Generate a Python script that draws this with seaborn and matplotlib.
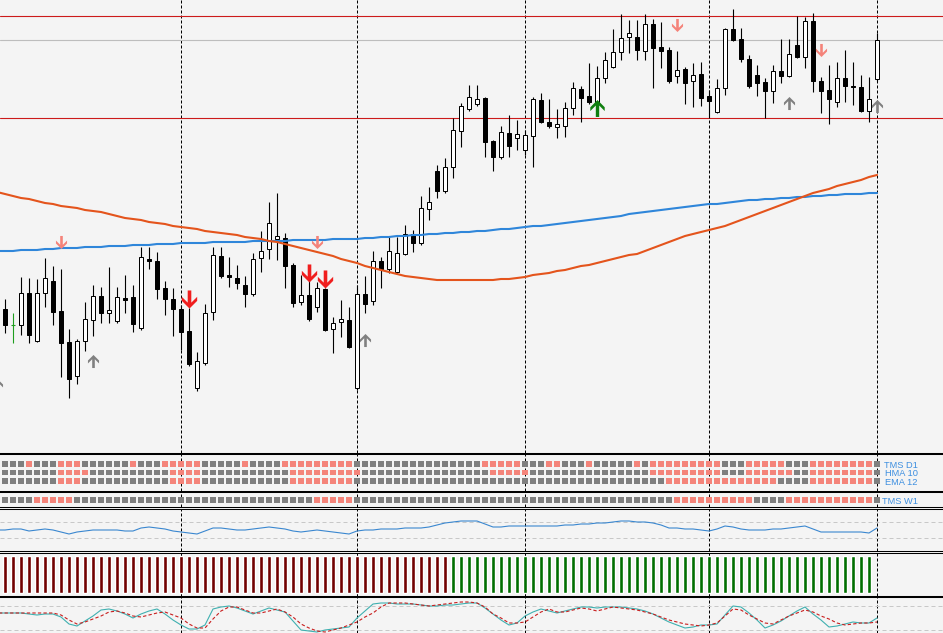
import numpy as np
import matplotlib
matplotlib.use("Agg")
import matplotlib.pyplot as plt
from matplotlib.path import Path
import seaborn as sns

# ---------------- data ----------------
# daily candles, price in points above the bottom of the main window
opens = [143, 127, 127, 159, 111, 159, 171, 141, 110, 76,
         111, 132, 156, 139, 131, 154, 155, 124, 193, 191,
         164, 153, 143, 121, 64, 89, 140, 196, 177, 174,
         167, 158, 194, 203, 213, 214, 187, 150, 157, 145,
         163, 123, 130, 132, 64, 158, 151, 191, 183, 180,
         198, 218, 209, 243, 281, 261, 285, 321, 343, 348,
         354, 311, 295, 319, 314, 302, 316, 352, 330, 325,
         326, 344, 363, 356, 349, 374, 385, 400, 415, 415,
         401, 428, 405, 402, 376, 383, 371, 378, 356, 340,
         364, 423, 413, 393, 377, 370, 361, 381, 376, 407,
         395, 431, 371, 362, 350, 374, 366, 365, 341, 373]
highs = [153, 139, 175, 174, 173, 194, 186, 183, 123, 113,
         150, 167, 165, 185, 165, 177, 167, 205, 205, 200,
         171, 164, 147, 144, 100, 148, 205, 205, 195, 187,
         176, 199, 221, 250, 259, 219, 189, 177, 182, 170,
         164, 135, 152, 145, 167, 176, 201, 195, 216, 215,
         227, 222, 256, 265, 287, 294, 334, 349, 367, 367,
         355, 312, 326, 337, 332, 322, 355, 359, 353, 343,
         350, 370, 366, 389, 386, 400, 423, 438, 432, 432,
         438, 433, 430, 405, 401, 385, 389, 390, 362, 373,
         424, 443, 424, 397, 387, 374, 387, 413, 413, 436,
         435, 439, 375, 387, 390, 402, 390, 377, 375, 419]
lows = [119, 109, 117, 109, 110, 145, 127, 75, 54, 68,
        101, 116, 129, 129, 129, 139, 120, 122, 183, 153,
        137, 116, 102, 86, 61, 87, 132, 174, 165, 163,
        145, 156, 180, 193, 192, 164, 145, 147, 131, 140,
        121, 99, 115, 104, 62, 139, 147, 164, 179, 178,
        197, 200, 207, 232, 254, 259, 274, 305, 341, 346,
        295, 281, 293, 295, 302, 297, 285, 329, 324, 314,
        315, 337, 330, 348, 347, 369, 384, 392, 399, 392,
        392, 364, 384, 369, 369, 348, 345, 346, 334, 339,
        357, 411, 390, 364, 356, 334, 349, 369, 375, 394,
        384, 360, 339, 328, 345, 350, 347, 340, 330, 371]
closes = [127, 127, 159, 117, 159, 174, 140, 109, 73, 111,
          133, 156, 139, 142, 155, 152, 128, 195, 191, 163,
          153, 143, 120, 88, 91, 139, 197, 176, 175, 169,
          158, 193, 201, 229, 216, 186, 149, 157, 133, 164,
          122, 129, 133, 105, 158, 148, 191, 183, 201, 199,
          218, 209, 244, 250, 261, 285, 322, 346, 355, 353,
          310, 295, 320, 306, 318, 317, 353, 330, 326, 328,
          344, 364, 354, 350, 374, 392, 400, 414, 419, 402,
          428, 404, 401, 371, 382, 369, 377, 354, 351, 364,
          423, 412, 393, 366, 369, 361, 381, 376, 398, 395,
          431, 371, 361, 353, 374, 366, 365, 341, 353, 412]

# indicator lines start one bar before the first visible candle (bar -1)
ma_fast = [260,
           258, 256, 254, 253, 251, 249, 248, 246, 245, 244,
           242, 241, 240, 238, 236, 234, 233, 232, 230, 229,
           228, 226, 225, 224, 223, 221, 220, 219, 218, 217,
           215, 214, 213, 211, 210, 208, 206, 204, 202, 200,
           198, 196, 193, 191, 189, 186, 184, 182, 180, 178,
           176, 175, 174, 173, 172, 172, 172, 172, 172, 172,
           172, 172, 173, 173, 174, 175, 177, 178, 179, 181,
           182, 184, 186, 187, 189, 191, 193, 195, 197, 198,
           201, 204, 207, 210, 213, 216, 218, 220, 222, 224,
           226, 229, 232, 235, 238, 241, 244, 247, 250, 253,
           256, 259, 261, 263, 266, 268, 270, 272, 275, 277]
ma_slow = [201,
           201, 201, 202, 202, 202, 203, 203, 204, 204, 204,
           205, 205, 205, 206, 206, 206, 207, 207, 207, 208,
           208, 208, 209, 209, 209, 209, 210, 210, 210, 210,
           210, 211, 211, 211, 211, 211, 212, 212, 212, 212,
           212, 213, 213, 213, 213, 214, 214, 215, 215, 216,
           216, 217, 217, 218, 218, 219, 219, 220, 220, 221,
           221, 222, 223, 223, 224, 225, 226, 226, 227, 228,
           229, 230, 231, 232, 233, 234, 235, 236, 238, 239,
           240, 241, 242, 243, 244, 245, 246, 247, 248, 248,
           249, 250, 251, 252, 252, 253, 253, 254, 254, 255,
           255, 256, 256, 257, 257, 258, 258, 258, 259, 259]

resistance = 436
support = 334
mid_level = 412
month_starts = [22, 44, 65, 88, 109]

# signal arrows: bar index and price
sell_weak_bars = [7, 39, 84, 102]
sell_weak_vals = [210, 210, 427, 402]
sell_strong_bars = [23, 38, 40]
sell_strong_vals = [153, 179, 173]
buy_weak_bars = [-1, 11, 45, 98, 109]
buy_weak_vals = [67, 91, 112, 349, 346]
buy_strong_bars = [74]
buy_strong_vals = [344]

# trend matrix, 1 = pink cell, 0 = grey cell
tms_d1 = ("0001000111" "0000001000" "1111100000" "1000011111"
          "1111000000" "0000000000" "1111100011" "0001000001"
          "0111111111" "0001111100" "0111111110")
hma_10 = ("0000000111" "1000000000" "0111100000" "0000001111"
          "1111100000" "0000000000" "0111110000" "0000000000"
          "0111111111" "0001111110" "0111111110")
ema_12 = ("0000000111" "0000000000" "0111100000" "0000001111"
          "1111000000" "0000000000" "0000000000" "0000000000"
          "0001111111" "1111111000" "0111111110")
tms_w1 = ("0000111110" "0000000000" "0000000000" "0000000001"
          "1111000000" "0000000000" "0000000000" "0000000000"
          "0000111111" "1111000011" "1111111110")

osc_line = [21,
            21, 22, 22, 20, 21, 22, 21, 19, 17, 19,
            20, 21, 21, 21, 21, 20, 20, 23, 24, 23,
            22, 20, 19, 18, 17, 20, 23, 23, 22, 21,
            21, 22, 23, 24, 23, 22, 20, 19, 20, 21,
            20, 19, 18, 17, 20, 21, 21, 22, 22, 22,
            23, 23, 23, 24, 26, 28, 29, 30, 30, 30,
            27, 24, 24, 25, 25, 25, 25, 25, 25, 25,
            26, 26, 27, 27, 28, 28, 29, 30, 30, 29,
            29, 28, 26, 23, 23, 22, 22, 21, 20, 22,
            25, 24, 22, 21, 21, 21, 22, 22, 23, 24,
            25, 22, 19, 19, 19, 19, 19, 19, 18, 23]
osc_levels = [29, 13]

trend_dir = [-1] * 56 + [1] * 53

stoch_main = [20,
              20, 20, 20, 19, 18, 19, 19, 16, 9, 7,
              12, 17, 23, 24, 22, 19, 15, 19, 22, 24,
              19, 13, 8, 4, 4, 8, 24, 26, 27, 25,
              22, 19, 22, 25, 23, 21, 12, 3, 2, 1,
              3, 4, 5, 6, 15, 22, 29, 30, 30, 29,
              29, 29, 28, 27, 27, 28, 28, 29, 30, 30,
              25, 19, 13, 8, 10, 17, 21, 24, 22, 20,
              22, 24, 26, 26, 25, 26, 26, 26, 25, 24,
              22, 19, 15, 11, 8, 5, 6, 8, 8, 9,
              18, 27, 26, 20, 13, 5, 8, 12, 17, 22,
              26, 19, 13, 6, 7, 9, 11, 10, 10, 15]
stoch_signal = [20,
                20, 20, 20, 20, 20, 20, 20, 18, 13, 9,
                11, 14, 17, 21, 22, 20, 17, 16, 18, 20,
                21, 18, 15, 9, 5, 5, 14, 22, 26, 26,
                23, 20, 20, 22, 24, 21, 16, 9, 5, 2,
                1, 3, 5, 8, 11, 16, 20, 26, 30, 30,
                30, 29, 28, 27, 28, 29, 30, 31, 31, 30,
                26, 19, 15, 10, 10, 11, 16, 21, 24, 21,
                21, 23, 25, 24, 22, 24, 26, 25, 24, 23,
                21, 19, 16, 13, 11, 9, 8, 7, 8, 10,
                17, 24, 23, 18, 14, 10, 9, 13, 17, 20,
                23, 21, 17, 14, 10, 8, 9, 10, 10, 11]
stoch_levels = [27, 3]

# ---------------- styling ----------------
W, H = 943, 633
BG = "#F4F4F4"
GREY_CELL = "#7F7F7F"
PINK_CELL = "#F4847A"
LABEL_BLUE = "#3D8FE0"

sns.set_style("white", {"axes.facecolor": BG, "figure.facecolor": BG})
plt.rcParams["font.family"] = ["Liberation Sans", "DejaVu Sans"]

fig = plt.figure(figsize=(W / 100, H / 100), dpi=100)
bars = np.arange(len(opens))
line_x = np.arange(-1, len(opens))


def panel(y_top, y_bot):
    ax = fig.add_axes([0, 1 - y_bot / H, 1, (y_bot - y_top) / H])
    ax.set_xlim(-0.625, 117.25)
    ax.set_xticks([])
    ax.set_yticks([])
    for s in ("left", "right"):
        ax.spines[s].set_visible(False)
    for s in ("top", "bottom"):
        ax.spines[s].set_color("black")
        ax.spines[s].set_linewidth(0.75)
    for b in month_starts:
        ax.axvline(b, color="black", lw=0.72, ls=(0, (3, 2)), zorder=1)
    return ax


def arrow_path(direction):
    s = 0.2
    verts = [(-s, 1), (s, 1), (s, -0.35), (0.85, 0.30), (0.85, -0.15),
             (0, -1), (-0.85, -0.15), (-0.85, 0.30), (-s, -0.35), (-s, 1)]
    verts = np.array(verts) * [1, direction]
    return Path(verts, closed=True)


down_arrow = arrow_path(1)
up_arrow = arrow_path(-1)

# ---- main price window ----
ax = panel(0, 452.7)
ax.spines["top"].set_visible(False)
ax.set_ylim(-0.7, 452)

ax.axhline(resistance, color="#CC1A1A", lw=0.8, zorder=1)
ax.axhline(support, color="#CC1A1A", lw=0.8, zorder=1)
ax.axhline(mid_level, color="#BDBDBD", lw=0.8, zorder=1)

o, h, l, c = map(np.array, (opens, highs, lows, closes))
doji = o == c
wick_cols = np.where(doji, "#1E9E1E", "black")
ax.vlines(bars, l, h, colors=wick_cols, lw=0.8, zorder=3)
body_lo = np.minimum(o, c)
body_h = np.abs(c - o)
fills = np.where(c > o, "white", "black")
ax.bar(bars[~doji], body_h[~doji], bottom=body_lo[~doji], width=0.6,
       color=fills[~doji], edgecolor="black", linewidth=0.72, zorder=4)
ax.hlines(o[doji], bars[doji] - 0.3, bars[doji] + 0.3, colors="#1E9E1E", lw=0.8, zorder=4)

sns.lineplot(x=line_x, y=ma_slow, ax=ax, color="#2F86DA", lw=1.5, zorder=5)
sns.lineplot(x=line_x, y=ma_fast, ax=ax, color="#E4541C", lw=1.5, zorder=5)

ax.plot(sell_weak_bars, sell_weak_vals, ls="none", marker=down_arrow, ms=9.4,
        color="#F4837A", mew=0, zorder=6)
ax.plot(sell_strong_bars, sell_strong_vals, ls="none", marker=down_arrow, ms=13,
        color="#F01E1E", mew=0, zorder=6)
ax.plot(buy_weak_bars, buy_weak_vals, ls="none", marker=up_arrow, ms=9.4,
        color="#808080", mew=0, zorder=6)
ax.plot(buy_strong_bars, buy_strong_vals, ls="none", marker=up_arrow, ms=12.2,
        color="#0F7F0F", mew=0, zorder=6)
ax.set_xlabel("")
ax.set_ylabel("")

# ---- trend matrix D1 ----
ax_d1 = panel(454.3, 490.7)
ax_d1.set_ylim(-1.14, 3.14)
palette = {"off": GREY_CELL, "on": PINK_CELL}
for row, states in enumerate([ema_12, hma_10, tms_d1]):
    state = ["on" if ch == "1" else "off" for ch in states]
    sns.scatterplot(x=bars, y=np.full(len(bars), row), hue=state, palette=palette,
                    marker="s", s=16, linewidth=0, legend=False, ax=ax_d1, zorder=3)
for row, name in zip([1.82, 0.88, -0.18], ["TMS D1", "HMA 10", "EMA 12"]):
    ax_d1.text(114.1, row, name, ha="right", va="center", fontsize=6.7, color=LABEL_BLUE)
ax_d1.set_xlabel("")
ax_d1.set_ylabel("")

# ---- trend matrix W1 ----
ax_w1 = panel(492.3, 507.3)
ax_w1.set_ylim(-0.73, 0.77)
state = ["on" if ch == "1" else "off" for ch in tms_w1]
sns.scatterplot(x=bars, y=np.zeros(len(bars)), hue=state, palette=palette,
                marker="s", s=16, linewidth=0, legend=False, ax=ax_w1, zorder=3)
ax_w1.text(114.1, -0.2, "TMS W1", ha="right", va="center", fontsize=6.7, color=LABEL_BLUE)
ax_w1.set_xlabel("")
ax_w1.set_ylabel("")

# ---- oscillator ----
ax_osc = panel(509, 550.7)
ax_osc.set_ylim(0.3, 42)
for lv in osc_levels:
    ax_osc.axhline(lv, color="#C8C8C8", lw=0.72, ls=(0, (4, 3)), zorder=1)
sns.lineplot(x=line_x, y=osc_line, ax=ax_osc, color="#3A87D0", lw=0.8, zorder=3)
ax_osc.set_xlabel("")
ax_osc.set_ylabel("")

# ---- trend histogram ----
ax_h = panel(552.7, 595.7)
ax_h.set_ylim(-0.073, 1.089)
td = np.array(trend_dir)
ax_h.bar(np.arange(len(td)), np.abs(td), width=0.5,
         color=np.where(td < 0, "#700000", "#006E00"), zorder=3)

# ---- stochastic ----
ax_st = panel(597.3, 633)
ax_st.spines["bottom"].set_visible(False)
ax_st.set_ylim(0, 35.7)
for lv in stoch_levels:
    ax_st.axhline(lv, color="#C8C8C8", lw=0.72, ls=(0, (4, 3)), zorder=1)
sns.lineplot(x=line_x, y=stoch_main, ax=ax_st, color="#3FB0B0", lw=0.8, zorder=3)
ax_st.plot(line_x, stoch_signal, color="#C81E1E", lw=0.8, ls=(0, (3, 2)), zorder=4)
ax_st.set_xlabel("")
ax_st.set_ylabel("")

fig.savefig("out.png", dpi=100, facecolor=BG)
